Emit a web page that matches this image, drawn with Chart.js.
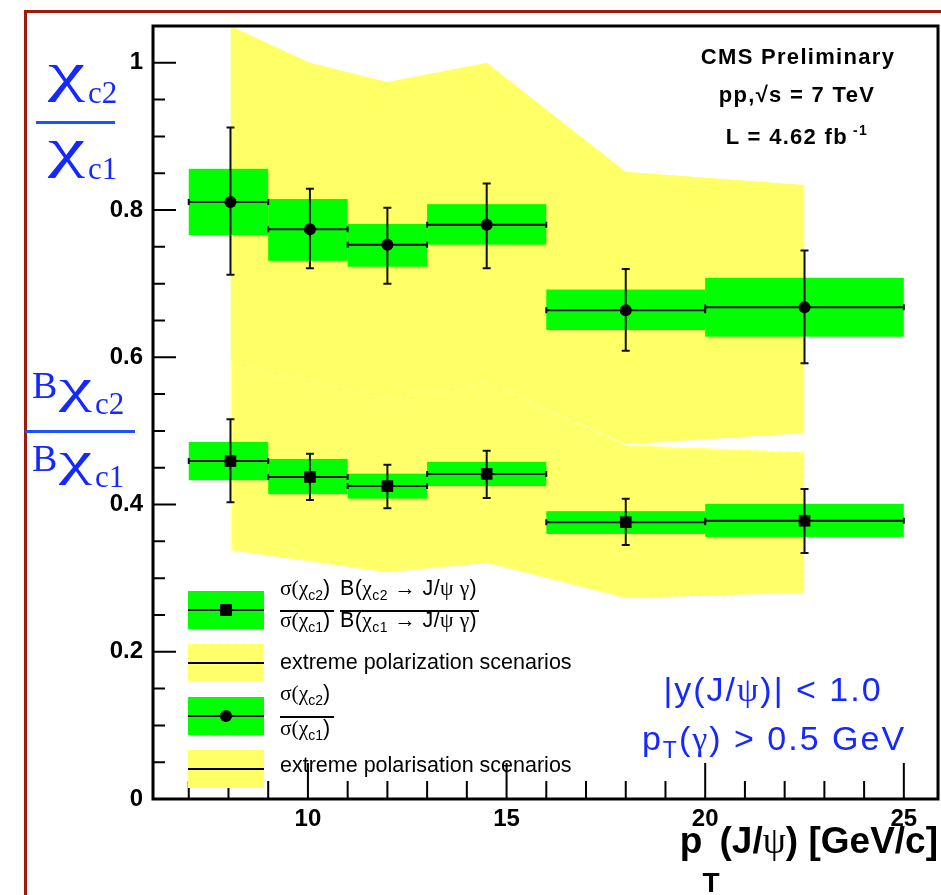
<!DOCTYPE html>
<html>
<head>
<meta charset="utf-8">
<script src="https://cdn.jsdelivr.net/npm/chart.js@4.4.0/dist/chart.umd.min.js"></script>
<style>
body { margin: 0; background: #fff; }
#wrap { position: relative; width: 941px; height: 895px; overflow: hidden; font-family: "Liberation Sans", Arial, sans-serif; }
#border { position: absolute; left: 24px; top: 10px; width: 1000px; height: 1000px; border-left: 3px solid #a0190a; border-top: 3px solid #a0190a; }
#c { position: absolute; left: 0; top: 0; }
.t { position: absolute; white-space: nowrap; line-height: 1; }
.serif { font-family: "Liberation Serif", "DejaVu Serif", serif; }
.chi { font-family: "Liberation Serif", serif; transform: scaleX(1.55); transform-origin: left center; }
.blue { color: #1428ff; }
.bold { font-weight: bold; }
.info { font-weight: bold; font-size: 22px; letter-spacing: 1.3px; transform: translateX(-50%); }
.cut { font-size: 34px; letter-spacing: 2px; transform: translateX(-50%); }
.bar { position: absolute; }
.sub { position: relative; }
.box { position: absolute; width: 76px; height: 38px; }
.lline { position: absolute; left: 0; width: 76px; height: 1.5px; background: #000; top: 18px; }
.leg { font-size: 21.5px; }
</style>
</head>
<body>
<div id="wrap">
  <div id="border"></div>
  <canvas id="c" width="941" height="895"></canvas>

  <!-- y axis titles -->
  <div class="t chi blue" style="left:48px;top:45px;font-size:54px">χ</div>
  <div class="t serif blue" style="left:88px;top:77px;font-size:31px">c2</div>
  <div class="bar" style="left:36px;top:121px;width:79px;height:3px;background:#1f50ff"></div>
  <div class="t chi blue" style="left:48px;top:121px;font-size:54px">χ</div>
  <div class="t serif blue" style="left:88px;top:153px;font-size:31px">c1</div>

  <div class="t serif blue" style="left:32px;top:366px;font-size:38px">B</div>
  <div class="t chi blue" style="left:59px;top:362px;font-size:48px">χ</div>
  <div class="t serif blue" style="left:95px;top:388px;font-size:31px">c2</div>
  <div class="bar" style="left:25px;top:430px;width:110px;height:3px;background:#1f50ff"></div>
  <div class="t serif blue" style="left:32px;top:439px;font-size:38px">B</div>
  <div class="t chi blue" style="left:59px;top:435px;font-size:48px">χ</div>
  <div class="t serif blue" style="left:95px;top:461px;font-size:31px">c1</div>

  <!-- top right -->
  <div class="t info" style="left:798px;top:46px">CMS Preliminary</div>
  <div class="t info" style="left:797px;top:84px">pp,√s = 7 TeV</div>
  <div class="t info" style="left:797px;top:126px">L = 4.62 fb<span class="sub" style="font-size:14px;top:-9px"> -1</span></div>

  <!-- cuts -->
  <div class="t blue cut" style="left:773px;top:672px">|y(J/<span class="serif">ψ</span>)| &lt; 1.0</div>
  <div class="t blue cut" style="left:774px;top:721px">p<span class="sub" style="font-size:23px;top:8px">T</span>(<span class="serif">γ</span>) &gt; 0.5 GeV</div>

  <!-- x title -->
  <div class="t bold" style="right:3px;top:822px;font-size:37px">p<span class="sub" style="font-size:28px;top:39px">T</span>(J/<span class="serif" style="font-weight:normal">ψ</span>) [GeV/c]</div>

  <!-- legend -->
  <div class="box" style="left:188px;top:591px;background:#00ff00"><div class="lline"></div>
    <div style="position:absolute;left:32px;top:13px;width:12px;height:12px;background:#000"></div></div>
  <div class="t leg" style="left:280px;top:578px"><span class="serif">σ(χ</span><span class="sub" style="font-size:14px;top:5px">c2</span>)</div>
  <div class="bar" style="left:280px;top:610px;width:54px;height:2px;background:#000"></div>
  <div class="t leg" style="left:280px;top:610px"><span class="serif">σ(χ</span><span class="sub" style="font-size:14px;top:5px">c1</span>)</div>
  <div class="t leg" style="left:340px;top:578px;letter-spacing:0.4px">B(<span class="serif">χ</span><span class="sub" style="font-size:14px;top:5px">c2</span> → J/<span class="serif">ψ γ</span>)</div>
  <div class="bar" style="left:340px;top:610px;width:139px;height:2px;background:#000"></div>
  <div class="t leg" style="left:340px;top:610px;letter-spacing:0.4px">B(<span class="serif">χ</span><span class="sub" style="font-size:14px;top:5px">c1</span> → J/<span class="serif">ψ γ</span>)</div>

  <div class="box" id="hatchbox" style="left:188px;top:644px"><div class="lline"></div></div>
  <div class="t leg" style="left:280px;top:652px">extreme polarization scenarios</div>

  <div class="box" style="left:188px;top:697px;background:#00ff00"><div class="lline"></div>
    <div style="position:absolute;left:32px;top:13px;width:12px;height:12px;border-radius:6px;background:#000"></div></div>
  <div class="t leg" style="left:280px;top:683px"><span class="serif">σ(χ</span><span class="sub" style="font-size:14px;top:5px">c2</span>)</div>
  <div class="bar" style="left:280px;top:716px;width:54px;height:2px;background:#000"></div>
  <div class="t leg" style="left:280px;top:718px"><span class="serif">σ(χ</span><span class="sub" style="font-size:14px;top:5px">c1</span>)</div>

  <div class="box" style="left:188px;top:750px;background:#ffff66"><div class="lline"></div></div>
  <div class="t leg" style="left:280px;top:755px">extreme polarisation scenarios</div>
</div>

<script>
// pT bins of J/psi
var binLo = [7, 9, 11, 13, 16, 20];
var binHi = [9, 11, 13, 16, 20, 25];
var ptMean = [8.05, 10.05, 12.0, 14.5, 18.0, 22.5];

// sigma(chi_c2)/sigma(chi_c1)
var ratio = [0.811, 0.774, 0.753, 0.780, 0.664, 0.668];
var ratioStatLo = [0.712, 0.721, 0.700, 0.721, 0.609, 0.592];
var ratioStatHi = [0.912, 0.829, 0.803, 0.836, 0.720, 0.745];
var ratioSysLo = [0.766, 0.731, 0.723, 0.753, 0.637, 0.628];
var ratioSysHi = [0.856, 0.815, 0.781, 0.808, 0.692, 0.708];
var ratioPolLo = [0.596, 0.568, 0.543, 0.567, 0.482, 0.497];
var ratioPolHi = [1.05, 1.0, 0.974, 1.0, 0.852, 0.834];

// sigma ratio times B(chi_c2 -> J/psi gamma)/B(chi_c1 -> J/psi gamma)
var bRatio = [0.459, 0.4375, 0.425, 0.4416, 0.376, 0.378];
var bStatLo = [0.403, 0.406, 0.395, 0.409, 0.345, 0.334];
var bStatHi = [0.516, 0.469, 0.454, 0.473, 0.408, 0.421];
var bSysLo = [0.433, 0.414, 0.408, 0.425, 0.360, 0.356];
var bSysHi = [0.485, 0.462, 0.442, 0.458, 0.391, 0.401];
var bPolLo = [0.338, 0.323, 0.308, 0.321, 0.273, 0.280];
var bPolHi = [0.596, 0.568, 0.543, 0.567, 0.481, 0.471];

// axis ticks
var xTicks = [10, 15, 20, 25];
var yTicks = [0, 0.2, 0.4, 0.6, 0.8, 1];
var yTickLabels = ['0', '0.2', '0.4', '0.6', '0.8', '1'];

function pts(ys) {
	return ptMean.map(function(x, i) { return {x: x, y: ys[i]}; });
}

// checker pattern for the B ratio polarisation band
var pc = document.createElement('canvas');
pc.width = 2; pc.height = 2;
var pctx = pc.getContext('2d');
pctx.fillStyle = '#ffffff'; pctx.fillRect(0, 0, 2, 2);
pctx.fillStyle = '#ffff66'; pctx.fillRect(0, 0, 1, 1); pctx.fillRect(1, 1, 1, 1);
document.getElementById('hatchbox').style.backgroundImage = 'url(' + pc.toDataURL() + ')';
var ctx = document.getElementById('c').getContext('2d');
var hatch = ctx.createPattern(pc, 'repeat');

function drawSeries(c, xs, ys, val, sLo, sHi, eLo, eHi) {
	c.fillStyle = '#00ff00';
	for (var i = 0; i < val.length; i++) {
		var x0 = xs.getPixelForValue(binLo[i]), x1 = xs.getPixelForValue(binHi[i]);
		var yt = ys.getPixelForValue(sHi[i]), yb = ys.getPixelForValue(sLo[i]);
		c.fillRect(x0, yt, x1 - x0, yb - yt);
	}
	c.strokeStyle = '#111';
	c.lineWidth = 2;
	for (var i = 0; i < val.length; i++) {
		var x0 = xs.getPixelForValue(binLo[i]), x1 = xs.getPixelForValue(binHi[i]);
		var xm = xs.getPixelForValue(ptMean[i]);
		var y = ys.getPixelForValue(val[i]);
		var ya = ys.getPixelForValue(eHi[i]), yb = ys.getPixelForValue(eLo[i]);
		c.beginPath();
		c.moveTo(x0, y); c.lineTo(x1, y);
		c.moveTo(x0, y - 3); c.lineTo(x0, y + 3);
		c.moveTo(x1, y - 3); c.lineTo(x1, y + 3);
		c.moveTo(xm, ya); c.lineTo(xm, yb);
		c.moveTo(xm - 4, ya); c.lineTo(xm + 4, ya);
		c.moveTo(xm - 4, yb); c.lineTo(xm + 4, yb);
		c.stroke();
	}
}

var rootStyle = {
	id: 'rootStyle',
	afterDatasetDraw: function(chart, args) {
		if (args.index !== 3) return;
		var c = chart.ctx, xs = chart.scales.x, ys = chart.scales.y;
		c.save();
		drawSeries(c, xs, ys, ratio, ratioSysLo, ratioSysHi, ratioStatLo, ratioStatHi);
		drawSeries(c, xs, ys, bRatio, bSysLo, bSysHi, bStatLo, bStatHi);
		c.restore();
	},
	afterDraw: function(chart) {
		var c = chart.ctx, a = chart.chartArea, xs = chart.scales.x, ys = chart.scales.y;
		c.save();
		c.strokeStyle = '#000';
		c.lineWidth = 2;
		c.beginPath();
		for (var v = 7; v <= 25; v++) {
			var px = xs.getPixelForValue(v);
			var len = (v % 5 === 0) ? 36 : 18;
			c.moveTo(px, a.bottom); c.lineTo(px, a.bottom - len);
		}
		for (var k = 0; k <= 21; k++) {
			var py = ys.getPixelForValue(k * 0.05);
			var l = (k % 4 === 0) ? 23 : 12;
			c.moveTo(a.left, py); c.lineTo(a.left + l, py);
		}
		c.stroke();
		c.lineWidth = 3;
		c.strokeRect(a.left, a.top, a.right - a.left, a.bottom - a.top);
		c.restore();
	}
};

var tickFont = {family: "'Liberation Sans', Arial, sans-serif", weight: 'bold', size: 24};

var myChart = new Chart(ctx, {
	type: 'line',
	data: {
		datasets: [
			{data: pts(bPolHi), borderWidth: 0, pointRadius: 0, fill: false, order: 6},
			{data: pts(bPolLo), borderWidth: 0, pointRadius: 0, fill: '-1', backgroundColor: hatch, order: 5},
			{data: pts(ratioPolHi), borderWidth: 0, pointRadius: 0, fill: false, order: 4},
			{data: pts(ratioPolLo), borderWidth: 0, pointRadius: 0, fill: '-1', backgroundColor: '#ffff66', order: 3},
			{data: pts(bRatio), showLine: false, pointStyle: 'rect', pointRadius: 8.2, borderWidth: 0, backgroundColor: '#000', order: 1},
			{data: pts(ratio), showLine: false, pointStyle: 'circle', pointRadius: 6, borderWidth: 0, backgroundColor: '#000', order: 1}
		]
	},
	options: {
		responsive: false,
		devicePixelRatio: 1,
		animation: false,
		layout: {autoPadding: false, padding: {top: 26, right: 3, left: 0, bottom: 0}},
		plugins: {legend: {display: false}, tooltip: {enabled: false}},
		scales: {
			x: {
				type: 'linear', min: 6.10, max: 25.86,
				grid: {display: false, drawTicks: false}, border: {display: false},
				afterBuildTicks: function(s) { s.ticks = xTicks.map(function(v) { return {value: v}; }); },
				afterFit: function(s) { s.height = 96; s.paddingLeft = 0; s.paddingRight = 0; },
				ticks: {font: tickFont, color: '#000', padding: 6, maxRotation: 0, autoSkip: false,
					callback: function(v) { return String(v); }}
			},
			y: {
				min: 0, max: 1.05,
				grid: {display: false, drawTicks: false}, border: {display: false},
				afterBuildTicks: function(s) { s.ticks = yTicks.map(function(v) { return {value: v}; }); },
				afterFit: function(s) { s.width = 153; },
				ticks: {font: tickFont, color: '#000', padding: 10, autoSkip: false,
					callback: function(v) { var i = yTicks.indexOf(v); return i >= 0 ? yTickLabels[i] : ''; }}
			}
		}
	},
	plugins: [rootStyle]
});
</script>
</body>
</html>
